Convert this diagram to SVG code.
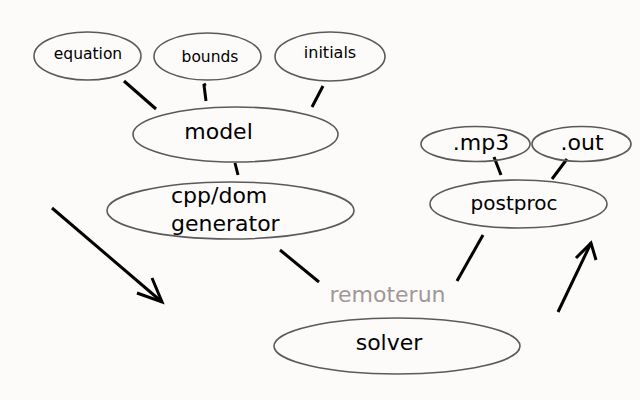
<svg xmlns="http://www.w3.org/2000/svg" width="640" height="400" viewBox="0 0 640 400">
<style>
.n{fill:none;stroke:#5a5a5a;stroke-width:1.6}
.t{font-family:"DejaVu Sans",sans-serif;fill:#000;text-anchor:middle}
.c{stroke:#000;stroke-width:3;fill:none;stroke-linecap:butt}
</style>
<rect width="640" height="400" fill="#fdfbfa"/>
<g id="connectors">
<line class="c" x1="124" y1="81" x2="156" y2="109"/>
<polyline class="c" points="206,84 204,85 206,101"/>
<line class="c" x1="323" y1="86" x2="312" y2="107"/>
<line class="c" x1="235" y1="163" x2="238" y2="175"/>
<line class="c" x1="280" y1="250" x2="319" y2="282"/>
<line class="c" x1="483" y1="235" x2="457" y2="281"/>
<line class="c" x1="494" y1="157" x2="501" y2="175"/>
<line class="c" x1="567" y1="159" x2="552" y2="179"/>
<line class="c" x1="52" y1="208" x2="162" y2="302"/>
<polyline class="c" points="137,293 162,302 152,278"/>
<line class="c" x1="558" y1="312" x2="591" y2="243"/>
<polyline class="c" points="576,258 591,243 596,260"/>
</g>
<g id="equation"><ellipse class="n" cx="87.5" cy="56" rx="53.5" ry="24"/><text class="t" x="88" y="59" font-size="15.5">equation</text></g>
<g id="bounds"><ellipse class="n" cx="207.5" cy="56.5" rx="53.5" ry="23.5"/><text class="t" x="210" y="62" font-size="15.5">bounds</text></g>
<g id="initials"><ellipse class="n" cx="330" cy="56.5" rx="55" ry="24.5"/><text class="t" x="330" y="58" font-size="16">initials</text></g>
<g id="model"><ellipse class="n" cx="235.5" cy="134.5" rx="102.5" ry="27.5"/><text class="t" x="218.5" y="139" font-size="22">model</text></g>
<g id="generator"><ellipse class="n" cx="230.5" cy="210.5" rx="123.5" ry="28.5"/><text class="t" font-size="22" style="text-anchor:start"><tspan x="171" y="203">cpp/dom</tspan><tspan x="171" y="231">generator</tspan></text></g>
<g id="mp3"><ellipse class="n" cx="475.5" cy="144" rx="54.5" ry="17.5"/><text class="t" x="481" y="150" font-size="22">.mp3</text></g>
<g id="out"><ellipse class="n" cx="581.5" cy="144" rx="49.5" ry="17.5"/><text class="t" x="582" y="150" font-size="22">.out</text></g>
<g id="postproc"><ellipse class="n" cx="518.5" cy="204" rx="88.5" ry="24"/><text class="t" x="514" y="210" font-size="20">postproc</text></g>
<g id="remoterun"><text class="t" x="387.5" y="302" font-size="22" fill="#a09898" style="fill:#a09898">remoterun</text></g>
<g id="solver"><ellipse class="n" cx="397" cy="346" rx="123" ry="28"/><text class="t" x="389" y="350" font-size="22">solver</text></g>
</svg>
